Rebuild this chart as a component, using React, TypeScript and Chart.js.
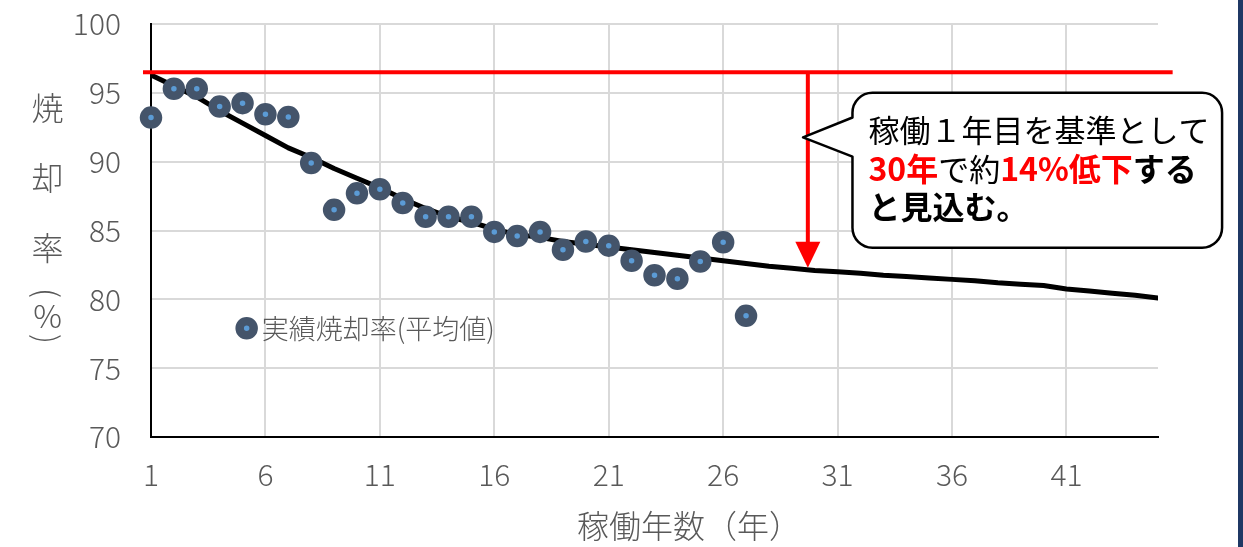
import { useEffect, useRef } from "react";
import { Chart, registerables } from "chart.js";

Chart.register(...registerables);

const FONT = "'Noto Sans CJK JP', 'Noto Sans', sans-serif";
const GRAY = "#595959";
const RED = "#FF0000";
const MARKER_EDGE = "#44546A";
const MARKER_CORE = "#5B9BD5";

// 実績焼却率（平均値）: 稼働年ごと
const actualYears = [1, 2, 3, 4, 5, 6, 7, 8, 9, 10, 11, 12, 13, 14, 15, 16, 17, 18, 19, 20, 21, 22, 23, 24, 25, 26, 27];
const actualRates = [93.2, 95.3, 95.3, 94.0, 94.25, 93.45, 93.25, 89.9, 86.5, 87.7, 88.0, 87.0, 86.0, 86.0, 86.0, 84.9, 84.6, 84.9, 83.6, 84.2, 83.9, 82.8, 81.75, 81.5, 82.75, 84.15, 78.8];

// 見込み曲線
const trendYears = [1, 2, 3, 4, 5, 6, 7, 8, 9, 10, 11, 12, 13, 14, 15, 16, 17, 18, 19, 20, 21, 22, 23, 24, 25, 26, 27, 28, 29, 30, 31, 32, 33, 34, 35, 36, 37, 38, 39, 40, 41, 42, 43, 44, 45];
const trendRates = [96.3, 95.5, 94.7, 93.7, 92.8, 91.9, 91.0, 90.3, 89.5, 88.8, 88.1, 87.3, 86.6, 86.0, 85.6, 85.1, 84.7, 84.5, 84.2, 84.0, 83.8, 83.6, 83.4, 83.2, 83.0, 82.8, 82.6, 82.4, 82.25, 82.1, 82.0, 81.9, 81.75, 81.65, 81.55, 81.45, 81.35, 81.2, 81.1, 81.0, 80.75, 80.6, 80.45, 80.3, 80.1];

// 稼働1年目の基準値ライン
const baseRate = 96.5;
const baseSpan = [0.65, 45.64];

// 30年時点の低下を示す矢印
const arrowYear = 29.7;
const arrowTo = 82.3;

const xTickValues = [1, 6, 11, 16, 21, 26, 31, 36, 41];
const yMin = 70;
const yMax = 100;
const yStep = 5;

const legendLabel = "実績焼却率(平均値)";
const xTitle = "稼働年数（年）";
const yTitleChars = ["焼", "却", "率", "(", "%", ")"];

type Seg = { t: string; red?: boolean; bold?: boolean };
const calloutLines: Seg[][] = [
  [{ t: "稼働１年目を基準として" }],
  [
    { t: "30年", red: true, bold: true },
    { t: "で約" },
    { t: "14%低下", red: true, bold: true },
    { t: "する", bold: true },
  ],
  [{ t: "と見込む。", bold: true }],
];

const overlayPlugin = {
  id: "overlay",
  beforeDraw(chart: any) {
    const { ctx, width, height } = chart;
    ctx.save();
    ctx.fillStyle = "#ffffff";
    ctx.fillRect(0, 0, width, height);
    ctx.restore();
  },
  afterDatasetsDraw(chart: any) {
    const ctx: CanvasRenderingContext2D = chart.ctx;
    const xs = chart.scales.x;
    const ys = chart.scales.y;
    ctx.save();

    // arrow
    const ax = xs.getPixelForValue(arrowYear);
    const ay0 = ys.getPixelForValue(baseRate);
    const ay1 = ys.getPixelForValue(arrowTo);
    const headH = 26;
    const headW = 12.5;
    ctx.strokeStyle = RED;
    ctx.lineWidth = 4;
    ctx.beginPath();
    ctx.moveTo(ax, ay0);
    ctx.lineTo(ax, ay1 - headH + 1);
    ctx.stroke();
    ctx.fillStyle = RED;
    ctx.beginPath();
    ctx.moveTo(ax - headW, ay1 - headH);
    ctx.lineTo(ax + headW, ay1 - headH);
    ctx.lineTo(ax, ay1);
    ctx.closePath();
    ctx.fill();

    // callout box
    const L = xs.getPixelForValue(31.65);
    const R = xs.getPixelForValue(47.8);
    const T = ys.getPixelForValue(95.0);
    const B = ys.getPixelForValue(83.75);
    const r = 20;
    const p1 = ys.getPixelForValue(93.21);
    const p2 = ys.getPixelForValue(90.37);
    const tipX = xs.getPixelForValue(29.49);
    const tipY = ys.getPixelForValue(91.76);
    ctx.beginPath();
    ctx.moveTo(L + r, T);
    ctx.lineTo(R - r, T);
    ctx.arcTo(R, T, R, T + r, r);
    ctx.lineTo(R, B - r);
    ctx.arcTo(R, B, R - r, B, r);
    ctx.lineTo(L + r, B);
    ctx.arcTo(L, B, L, B - r, r);
    ctx.lineTo(L, p2);
    ctx.lineTo(tipX, tipY);
    ctx.lineTo(L, p1);
    ctx.lineTo(L, T + r);
    ctx.arcTo(L, T, L + r, T, r);
    ctx.closePath();
    ctx.fillStyle = "#ffffff";
    ctx.fill();
    ctx.strokeStyle = "#000000";
    ctx.lineWidth = 2.5;
    ctx.lineJoin = "round";
    ctx.stroke();

    // callout text
    const lineOffsets = [37, 76, 114];
    ctx.textBaseline = "middle";
    ctx.textAlign = "left";
    calloutLines.forEach((segs, i) => {
      let x = L + 16;
      const y = T + lineOffsets[i];
      segs.forEach((s) => {
        ctx.font = `${s.bold ? "bold" : "normal"} ${s.bold ? 32 : 31}px ${FONT}`;
        ctx.fillStyle = s.red ? RED : "#000000";
        ctx.fillText(s.t, x, y);
        x += ctx.measureText(s.t).width;
      });
    });

    // legend
    const lx = xs.getPixelForValue(5.18);
    const ly = ys.getPixelForValue(77.9);
    ctx.beginPath();
    ctx.arc(lx, ly, 7, 0, Math.PI * 2);
    ctx.fillStyle = MARKER_CORE;
    ctx.fill();
    ctx.lineWidth = 8.5;
    ctx.strokeStyle = MARKER_EDGE;
    ctx.stroke();
    ctx.font = `300 27px ${FONT}`;
    ctx.fillStyle = GRAY;
    ctx.textBaseline = "middle";
    ctx.fillText(legendLabel, lx + 15, ly);

    // axis titles
    ctx.font = `300 32px ${FONT}`;
    ctx.fillStyle = GRAY;
    ctx.textAlign = "center";
    ctx.textBaseline = "middle";
    ctx.fillText(xTitle, 689, 526);

    const yPos = [107.5, 177.5, 248, 293, 316, 339];
    yTitleChars.forEach((c, i) => {
      if (c === "(" || c === ")") {
        ctx.save();
        ctx.translate(47.5, yPos[i]);
        ctx.rotate(Math.PI / 2);
        ctx.fillText(c, 0, 0);
        ctx.restore();
      } else {
        ctx.fillText(c, 47.5, yPos[i]);
      }
    });

    ctx.restore();
  },
  afterDraw(chart: any) {
    const { ctx, width, height } = chart;
    ctx.save();
    ctx.fillStyle = "#1F3864";
    ctx.fillRect(width - 5, 0, 5, height);
    ctx.restore();
  },
};

export default function App() {
  const canvasRef = useRef<HTMLCanvasElement | null>(null);

  useEffect(() => {
    const canvas = canvasRef.current;
    if (!canvas) return;
    const chart = new Chart(canvas, {
      type: "scatter",
      data: {
        datasets: [
          {
            type: "scatter",
            label: legendLabel,
            data: actualYears.map((x, i) => ({ x, y: actualRates[i] })),
            pointRadius: 7,
            pointHoverRadius: 7,
            pointBorderWidth: 8.5,
            pointBorderColor: MARKER_EDGE,
            pointBackgroundColor: MARKER_CORE,
            clip: false,
          } as any,
          {
            type: "line",
            label: "基準",
            data: baseSpan.map((x) => ({ x, y: baseRate })),
            borderColor: RED,
            borderWidth: 4,
            pointRadius: 0,
            clip: false,
          } as any,
          {
            type: "line",
            label: "見込み",
            data: trendYears.map((x, i) => ({ x, y: trendRates[i] })),
            borderColor: "#000000",
            borderWidth: 5,
            pointRadius: 0,
            tension: 0,
            borderJoinStyle: "round",
            borderCapStyle: "round",
          },
        ],
      },
      options: {
        responsive: false,
        animation: false,
        devicePixelRatio: 1,
        layout: { padding: { left: 0, right: 85, top: 24, bottom: 0 } },
        plugins: {
          legend: { display: false },
          tooltip: { enabled: false },
        },
        scales: {
          x: {
            type: "linear",
            min: 1,
            max: 45,
            afterBuildTicks: (s: any) => {
              s.ticks = xTickValues.map((v) => ({ value: v }));
            },
            afterFit: (s: any) => {
              s.height = 110;
              s.paddingLeft = 0;
              s.paddingRight = 0;
              s.paddingTop = 0;
              s.paddingBottom = 0;
            },
            grid: { color: "#D9D9D9", lineWidth: 2, drawTicks: false },
            border: { color: "#000000", width: 2 },
            ticks: {
              color: GRAY,
              font: { family: FONT, size: 30, weight: "300" },
              padding: 20,
              maxRotation: 0,
              autoSkip: false,
            },
          },
          y: {
            type: "linear",
            min: yMin,
            max: yMax,
            afterFit: (s: any) => {
              s.width = 151;
              s.paddingLeft = 0;
              s.paddingRight = 0;
              s.paddingTop = 0;
              s.paddingBottom = 0;
            },
            grid: { color: "#D9D9D9", lineWidth: 2, drawTicks: false },
            border: { color: "#000000", width: 2 },
            ticks: {
              stepSize: yStep,
              color: GRAY,
              font: { family: FONT, size: 30, weight: "300" },
              padding: 30,
            },
          },
        },
      },
      plugins: [overlayPlugin],
    });
    return () => chart.destroy();
  }, []);

  return (
    <div style={{ position: "absolute", left: 0, top: 0, width: 1243, height: 547 }}>
      <canvas ref={canvasRef} width={1243} height={547} style={{ display: "block" }} />
    </div>
  );
}
